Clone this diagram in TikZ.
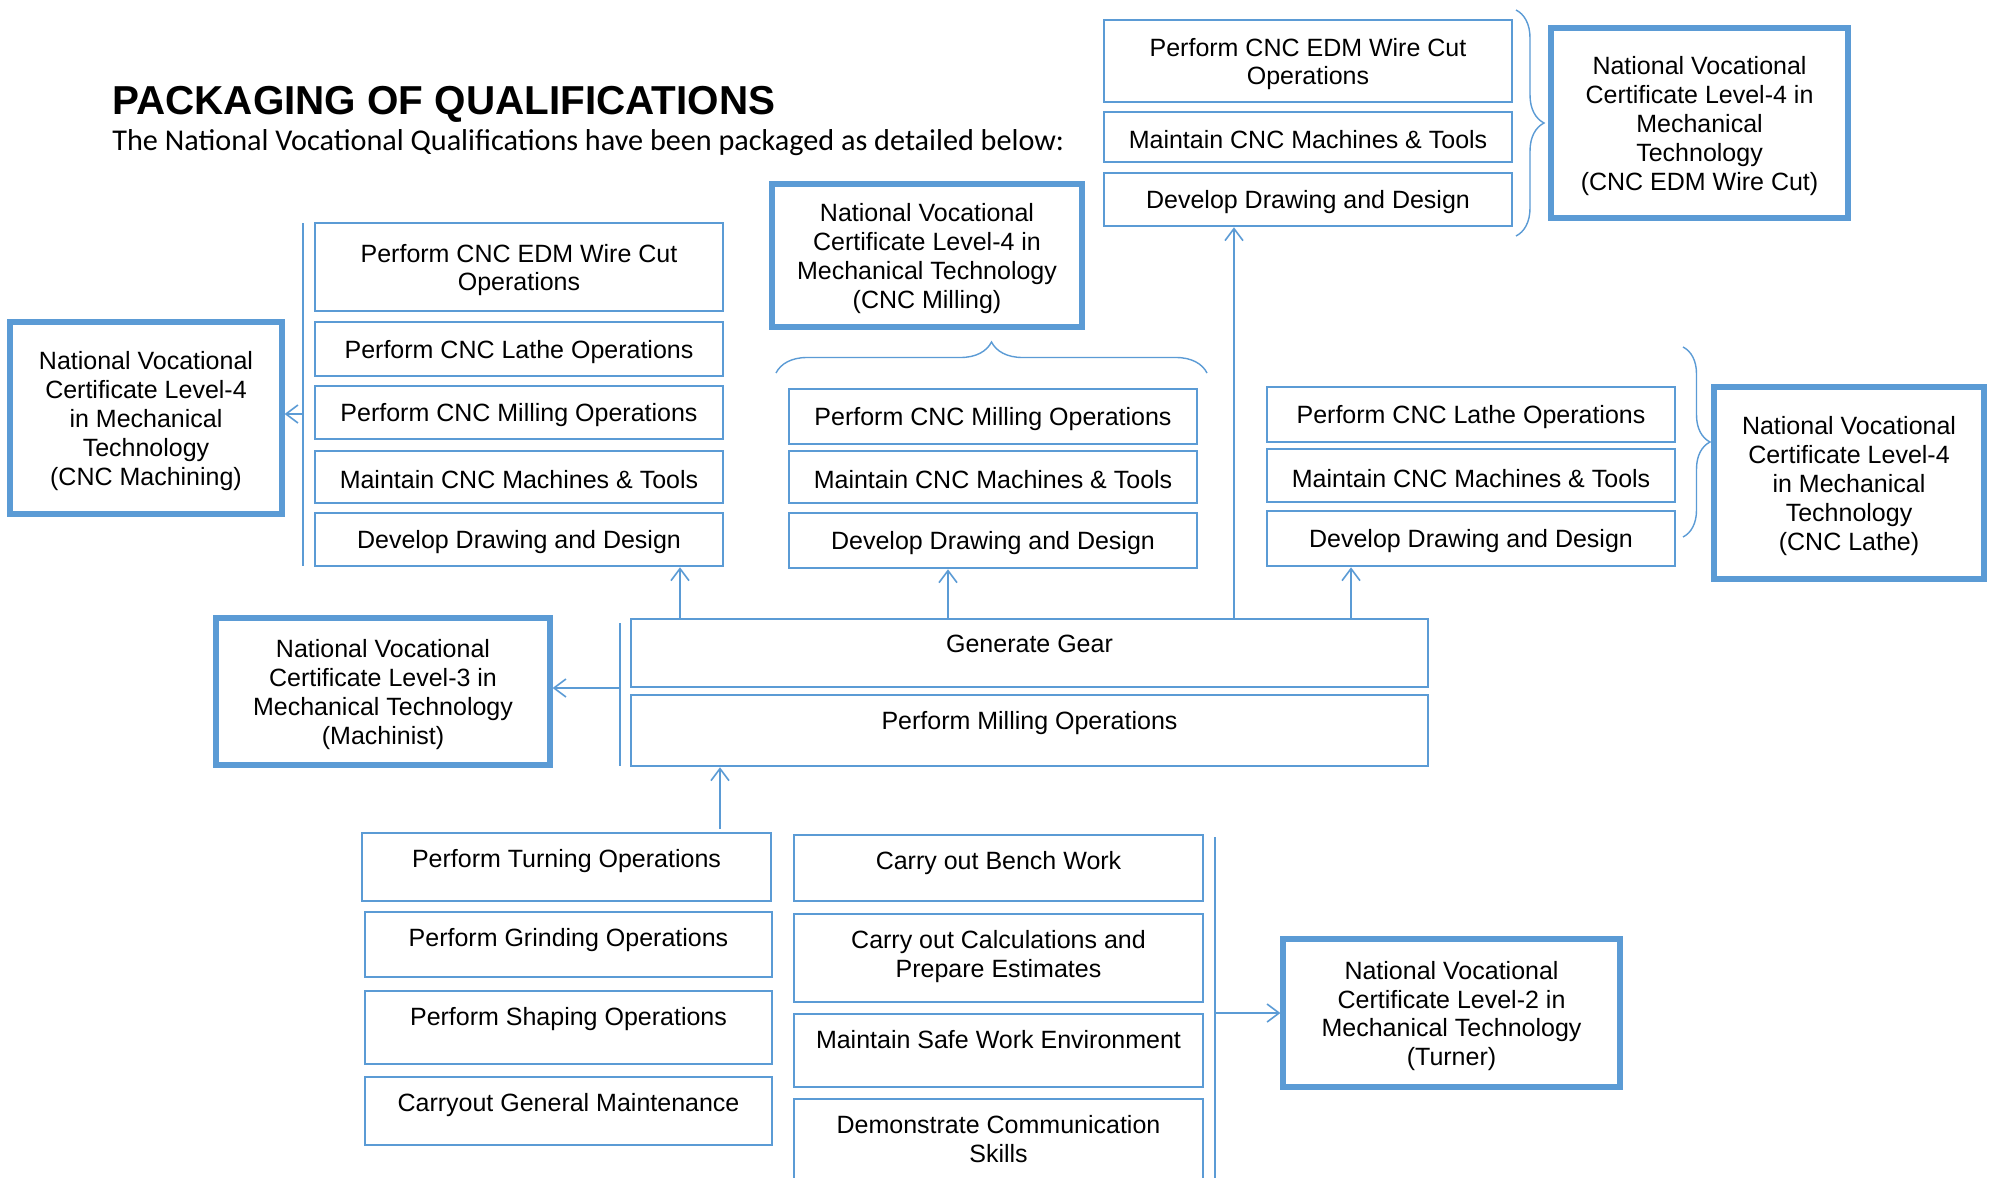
\documentclass[tikz,border=0pt]{standalone}
\usepackage{fontspec}
\setmainfont{Liberation Sans}
\newfontfamily\calfont{Carlito}
\usetikzlibrary{arrows.meta,decorations.pathreplacing,calc}
\definecolor{blu}{RGB}{91,155,213}
\newcommand\bx[7][]{\node[#1, minimum width={(#4-#2)*0.5pt}, minimum height={(#5-#3)*0.5pt}, label={[name=#6-t,txt,anchor=center,yshift=-1.5pt]center:#7}] (#6) at ({(#2+#4)/2},{(#3+#5)/2}) {};}
\newcommand\tbx[7][]{\node[box,#1, minimum width={(#4-#2)*0.5pt}, minimum height={(#5-#3)*0.5pt}, label={[name=#6-t,txt,anchor=north,yshift=-8.5pt]north:#7}] (#6) at ({(#2+#4)/2},{(#3+#5)/2}) {};}
\tikzset{
 txt/.style={font=\fontsize{12.5}{14.4}\selectfont, align=center, inner sep=0pt, text=black},
 box/.style={draw=blu, line width=1.3pt, inner sep=2pt},
 nvc/.style={draw=blu, line width=2.6pt, inner sep=2pt},
 bar/.style={draw=blu, line width=1.2pt},
 arr/.style={draw=blu, line width=0.8pt, -{Straight Barb[length=6pt,width=9pt]}},
 brc/.style={draw=blu, line width=0.7pt, decorate, decoration={brace, amplitude=#1}},
}
\begin{document}
\begin{tikzpicture}[x=0.5pt,y=-0.5pt]
\useasboundingbox (0,0) rectangle (1990,1177);
\fill[white] (0,0) rectangle (1990,1177);
\clip (0,0) rectangle (1990,1177);

% title
\node[anchor=base west, font=\bfseries\fontsize{20.2}{24}\selectfont, inner sep=0pt] (title) at (112,115) {PACKAGING OF QUALIFICATIONS};
\node[anchor=base west, font=\calfont\fontsize{15.1}{18}\selectfont, inner sep=0pt] (sub) at (112,150) {The National Vocational Qualifications have been packaged as detailed below:};

% top right group (CNC EDM Wire Cut)
\bx[box]{1104}{20}{1512}{102}{redm}{Perform CNC EDM Wire Cut\\Operations}
\bx[box]{1104}{112}{1512}{162}{rmnt}{Maintain CNC Machines \& Tools}
\bx[box]{1104}{173}{1512}{226}{rddd}{Develop Drawing and Design}
\bx[nvc]{1551}{28}{1848}{218}{nvcw}{National Vocational\\Certificate Level-4 in\\Mechanical\\Technology\\(CNC EDM Wire Cut)}
\coordinate (brwT) at (1516,10); \coordinate (brwB) at (1516,236);
\draw[brc=14pt] (brwT) -- (brwB);

% left group (CNC Machining)
\bx[box]{315}{223}{723}{311}{ledm}{Perform CNC EDM Wire Cut\\Operations}
\bx[box]{315}{322}{723}{376}{llat}{Perform CNC Lathe Operations}
\bx[box]{315}{386}{723}{439}{lmil}{Perform CNC Milling Operations}
\bx[box]{315}{451}{723}{503}{lmnt}{Maintain CNC Machines \& Tools}
\bx[box]{315}{513}{723}{566}{lddd}{Develop Drawing and Design}
\bx[nvc]{10}{322}{282}{514}{lnvc}{National Vocational\\Certificate Level-4\\in Mechanical\\Technology\\(CNC Machining)}
\coordinate (lbT) at (303,223); \coordinate (lbB) at (303,566);
\draw[bar] (lbT) -- (lbB);
\coordinate (la) at (303,414);
\draw[arr] (la) -- (la -| lnvc.east);

% middle top group (CNC Milling)
\bx[nvc]{772}{184}{1082}{327}{mnvc}{National Vocational\\Certificate Level-4 in\\Mechanical Technology\\(CNC Milling)}
\bx[box]{789}{389}{1197}{444}{mmil}{Perform CNC Milling Operations}
\bx[box]{789}{451}{1197}{503}{mmnt}{Maintain CNC Machines \& Tools}
\bx[box]{789}{513}{1197}{568}{mddd}{Develop Drawing and Design}
\coordinate (brmL) at (776,373); \coordinate (brmR) at (1207,373);
\draw[brc=15.5pt] (brmL) -- (brmR);

% right group (CNC Lathe)
\bx[box]{1267}{387}{1675}{442}{tlat}{Perform CNC Lathe Operations}
\bx[box]{1267}{449}{1675}{502}{tmnt}{Maintain CNC Machines \& Tools}
\bx[box]{1267}{511}{1675}{566}{tddd}{Develop Drawing and Design}
\bx[nvc]{1714}{387}{1984}{579}{tnvc}{National Vocational\\Certificate Level-4\\in Mechanical\\Technology\\(CNC Lathe)}
\coordinate (brtT) at (1683,347); \coordinate (brtB) at (1683,537);
\draw[brc=13.5pt] (brtT) -- (brtB);

% middle group (Machinist)
\tbx{631}{619}{1428}{687}{gg}{Generate Gear}
\tbx{631}{695}{1428}{766}{pmo}{Perform Milling Operations}
\bx[nvc]{216}{618}{550}{765}{l3}{National Vocational\\Certificate Level-3 in\\Mechanical Technology\\(Machinist)}
\coordinate (mbT) at (620,623); \coordinate (mbB) at (620,766);
\draw[bar] (mbT) -- (mbB);
\coordinate (ma) at (620,688);
\draw[arr] (ma) -- (ma -| l3.east);

% up arrows from Generate Gear
\coordinate (u1) at (680,619); \draw[arr] (u1) -- (u1 |- lddd.south);
\coordinate (u2) at (948,619); \draw[arr] (u2) -- (u2 |- mddd.south);
\coordinate (u3) at (1234,619); \draw[arr] (u3) -- (u3 |- rddd.south);
\coordinate (u4) at (1351,619); \draw[arr] (u4) -- (u4 |- tddd.south);

% bottom group (Turner)
\tbx{362}{833}{771}{901}{turn}{Perform Turning Operations}
\tbx{365}{912}{772}{977}{grind}{Perform Grinding Operations}
\tbx{365}{991}{772}{1064}{shape}{Perform Shaping Operations}
\tbx{365}{1077}{772}{1145}{cgm}{Carryout General Maintenance}
\tbx{794}{835}{1203}{901}{bench}{Carry out Bench Work}
\tbx{794}{914}{1203}{1002}{calc}{Carry out Calculations and\\Prepare Estimates}
\tbx{794}{1014}{1203}{1087}{safe}{Maintain Safe Work Environment}
\tbx{794}{1099}{1203}{1220}{demo}{Demonstrate Communication\\Skills}
\bx[nvc]{1283}{939}{1620}{1087}{l2}{National Vocational\\Certificate Level-2 in\\Mechanical Technology\\(Turner)}
\coordinate (bbT) at (1215,837); \coordinate (bbB) at (1215,1190);
\draw[bar] (bbT) -- (bbB);
\coordinate (ba) at (1215,1013);
\draw[arr] (ba) -- (ba -| l2.west);
\coordinate (u5) at (720,829); \draw[arr] (u5) -- (u5 |- pmo.south);
\end{tikzpicture}
\end{document}
